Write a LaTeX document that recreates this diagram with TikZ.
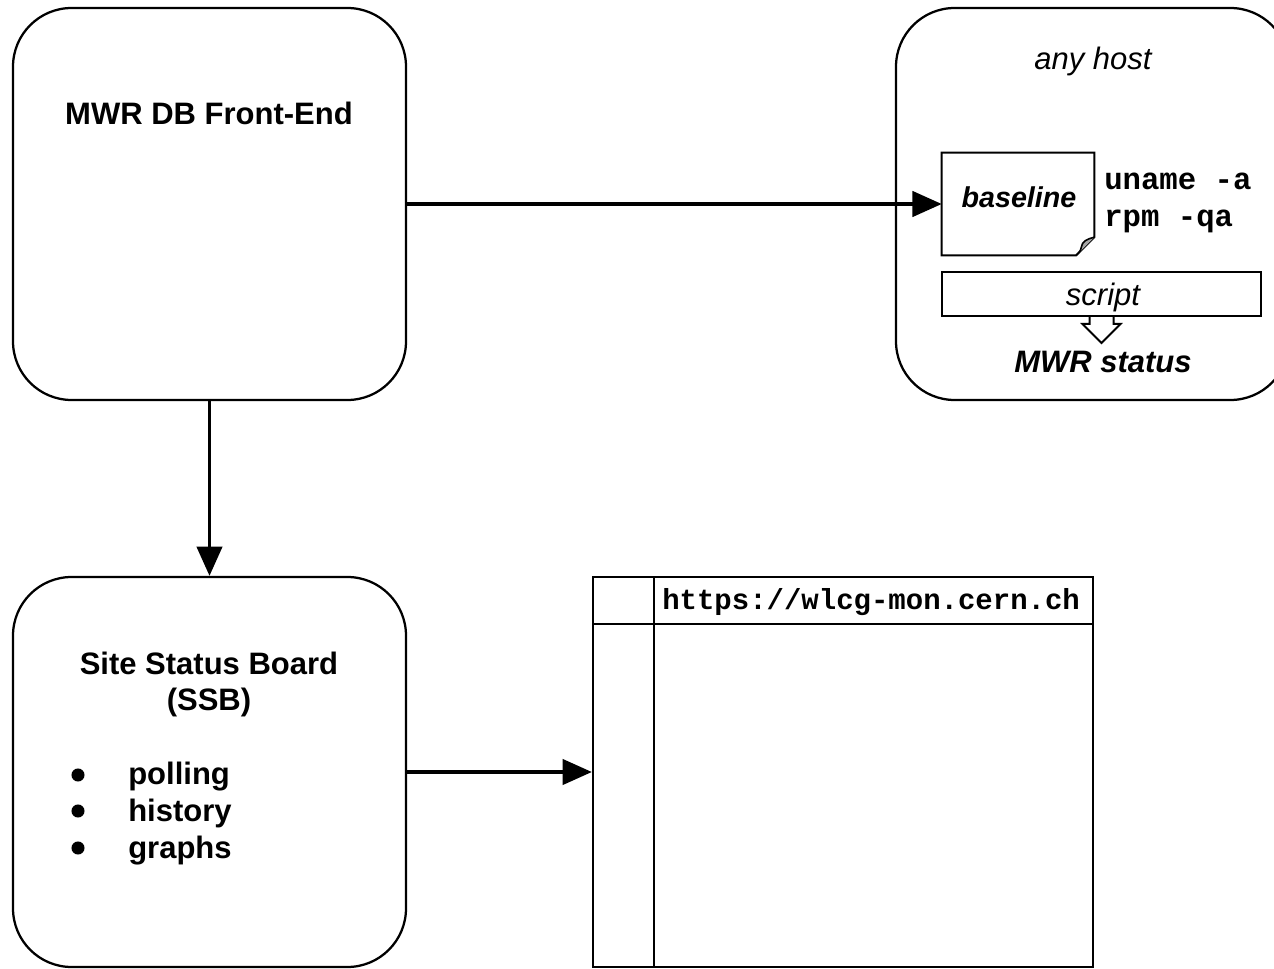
\documentclass[tikz,border=0pt]{standalone}
\usepackage{fontspec}
\setmainfont{Liberation Sans}
\setmonofont{Liberation Mono}
\usetikzlibrary{arrows.meta,calc}
\tikzset{
  bigbox/.style={draw, line width=1.7pt, rounded corners=44pt, minimum width=393*0.75pt, minimum height=392*0.75pt, inner sep=0pt},
  plainbox/.style={draw, line width=1.5pt, inner sep=0pt},
  conn/.style={line width=2.6pt, -{Triangle[length=22pt,width=19pt]}},
  lbl/.style={inner sep=0pt, anchor=base, font=\fontsize{23.25pt}{27pt}\selectfont\bfseries},
  ilbl/.style={inner sep=0pt, anchor=base, font=\fontsize{23.25pt}{27pt}\selectfont\itshape},
  biilbl/.style={inner sep=0pt, anchor=base, font=\fontsize{23.25pt}{27pt}\selectfont\bfseries\itshape},
  mono/.style={inner sep=0pt, anchor=base west, font=\fontsize{23pt}{27pt}\selectfont\ttfamily\bfseries},
  itemtxt/.style={inner sep=0pt, anchor=base west, font=\fontsize{23.25pt}{27pt}\selectfont\bfseries},
  bul/.style={circle, fill=black, inner sep=0pt, minimum size=9.8pt}
}
\begin{document}
\begin{tikzpicture}[x=0.75pt,y=-0.75pt]
\useasboundingbox (0,0) rectangle (1274,969);
\clip (0,0) rectangle (1274,969);
% front end
\node[bigbox] (fe) at (209.5,204) {};
\node[lbl] (fetitle) at (209,125) {MWR DB Front-End};
% any host
\node[bigbox] (host) at (1092.5,204) {};
\node[ilbl] (hosttitle) at (1093,70) {any host};
% baseline document
\node[minimum width=152*0.75pt, minimum height=102*0.75pt, inner sep=0pt] (doc) at (1018,204) {};
\draw[line width=1.5pt, line join=miter] (doc.north west) -- (doc.north east) -- ($(doc.south east)+(0,-18)$) -- ($(doc.south east)+(-18,0)$) -- (doc.south west) -- cycle;
\draw[line width=1.2pt, fill=black!35] ($(doc.south east)+(0,-18)$) .. controls ($(doc.south east)+(-8,-16)$) and ($(doc.south east)+(-12,-14)$) .. ($(doc.south east)+(-13,-8)$) .. controls ($(doc.south east)+(-14,-4)$) .. ($(doc.south east)+(-18,0)$);
\node[biilbl, font=\fontsize{21.5pt}{27pt}\selectfont\bfseries\itshape] (doclbl) at (1019,208) {baseline};
\node[mono] (cmd1) at (1104,190) {uname -a};
\node[mono] (cmd2) at (1104,227) {rpm -qa};
% script
\node[plainbox, minimum width=319*0.75pt, minimum height=44*0.75pt] (scr) at (1101.5,294) {};
\node[ilbl] (scrlbl) at (1103,306) {script};
\draw[line width=1.5pt, line join=miter] ($(scr.south)+(-12,0)$) -- ++(0,7) -- ++(-7,0) -- ($(scr.south)+(0,26)$) -- ($(scr.south)+(19,7)$) -- ++(-7,0) -- ++(0,-7);
\node[biilbl] (status) at (1103,373) {MWR status};
% SSB
\node[bigbox, minimum height=390*0.75pt] (ssb) at (209.5,772) {};
\node[lbl] (ssbt1) at (209,674) {Site Status Board};
\node[lbl] (ssbt2) at (209,710) {(SSB)};
\node[bul] (b1) at (78,775) {};
\node[bul] (b2) at (78,811) {};
\node[bul] (b3) at (78,848) {};
\node[itemtxt] (i1) at (128,784) {polling};
\node[itemtxt] (i2) at (128,821) {history};
\node[itemtxt] (i3) at (128,858) {graphs};
% browser
\node[plainbox, line width=1.7pt, minimum width=500*0.75pt, minimum height=390*0.75pt] (br) at (843,772) {};
\coordinate (hl) at (593,624);
\coordinate (hr) at (1093,624);
\coordinate (vt) at (654,577);
\coordinate (vb) at (654,967);
\draw[line width=1.7pt] (hl) -- (hr);
\draw[line width=1.7pt] (vt) -- (vb);
\node[mono, font=\fontsize{21.75pt}{27pt}\selectfont\ttfamily\bfseries] (url) at (662,609) {https://wlcg-mon.cern.ch};
% connectors
\draw[conn] (fe.east) -- (doc.west);
\draw[conn] (fe.south) -- (ssb.north);
\draw[conn] (ssb.east) -- (br.west);
\end{tikzpicture}
\end{document}
